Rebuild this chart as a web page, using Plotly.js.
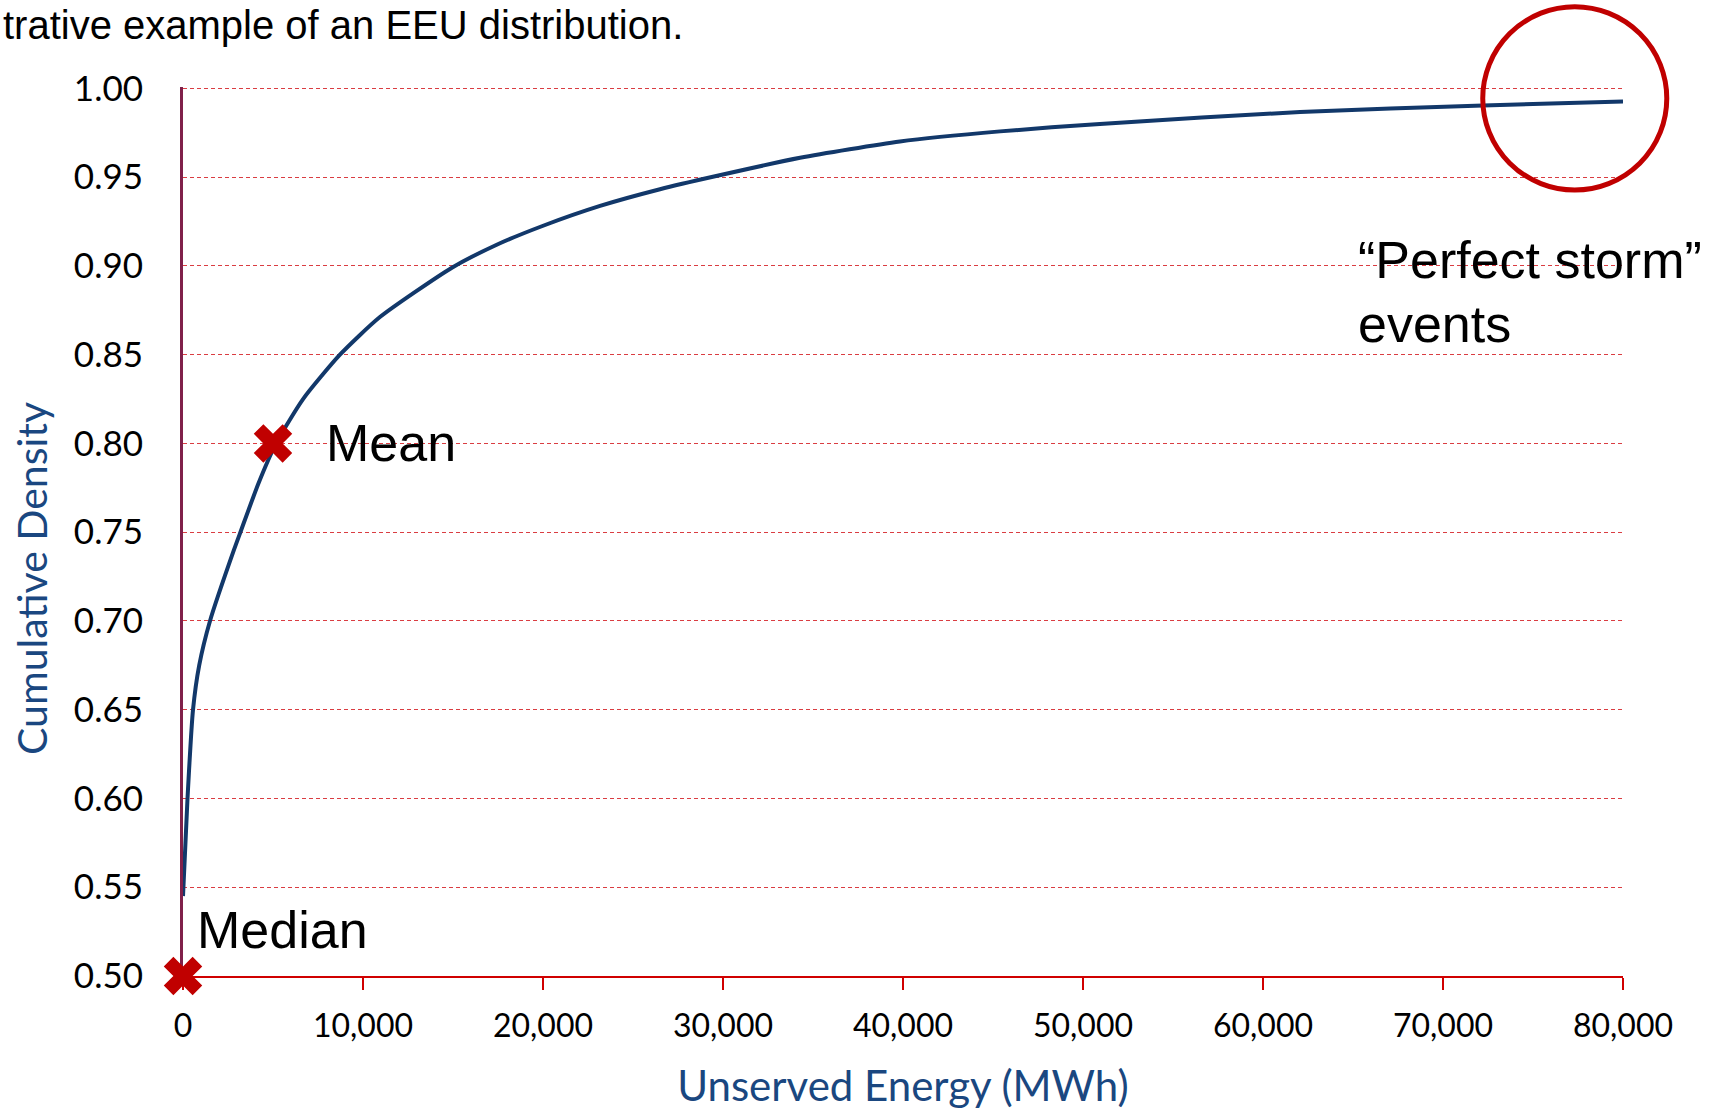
<!DOCTYPE html>
<html>
<head>
<meta charset="utf-8">
<script src="https://cdn.plot.ly/plotly-3.0.1.min.js"></script>
<style>html,body{margin:0;padding:0;background:#ffffff;}</style>
</head>
<body>
<div id="chart" style="width:1715px;height:1110px;"></div>
<script>
// ---- data ----
const energyMWh = [0, 250, 556, 900, 1500, 2830, 3190, 4190, 5170, 6670, 8720, 10940, 14940, 17400, 19970, 23170, 26500, 29560, 34280, 39830, 45390, 50940, 62060, 72220, 80000];
const cumulativeDensity = [0.545, 0.600, 0.650, 0.675, 0.700, 0.740, 0.750, 0.7774, 0.800, 0.825, 0.850, 0.8712, 0.899, 0.9118, 0.9225, 0.9338, 0.9432, 0.9505, 0.9609, 0.9701, 0.9758, 0.9800, 0.9867, 0.9904, 0.9927];

const markerLabels = ['Median', 'Mean'];
const markerEnergy = [0, 5000];
const markerDensity = [0.50, 0.80];

const xTickValues = [0, 10000, 20000, 30000, 40000, 50000, 60000, 70000, 80000];
const yTickValues = [0.50, 0.55, 0.60, 0.65, 0.70, 0.75, 0.80, 0.85, 0.90, 0.95, 1.00];

const headerText = 'trative example of an EEU distribution.';
const xTitleText = 'Unserved Energy (MWh)';
const yTitleText = 'Cumulative Density';
const stormLines = ['\u201CPerfect storm\u201D', 'events'];

// ---- styles ----
const NAVY = '#12386a';
const RED = '#c00000';
const AXIS_RED = '#d00000';
const TITLE_BLUE = '#1a4780';
const LABEL_FONT = 'Liberation Sans, Arial, sans-serif';
const AXIS_FONT = 'Lato, Carlito, sans-serif';

const traces = [
  {
    x: energyMWh,
    y: cumulativeDensity,
    type: 'scatter',
    mode: 'lines',
    line: {color: NAVY, width: 4, shape: 'spline', smoothing: 0.6},
    hoverinfo: 'x+y',
    showlegend: false
  },
  {
    x: markerEnergy,
    y: markerDensity,
    text: markerLabels,
    type: 'scatter',
    mode: 'markers',
    marker: {symbol: 'x', size: 34, color: RED, line: {width: 0}},
    cliponaxis: false,
    hoverinfo: 'text',
    showlegend: false
  }
];

const layout = {
  width: 1715,
  height: 1110,
  margin: {l: 183, r: 92, t: 87, b: 134, pad: 0},
  paper_bgcolor: '#ffffff',
  plot_bgcolor: '#ffffff',
  showlegend: false,
  xaxis: {
    range: [0, 80000],
    tickvals: xTickValues,
    tickformat: ',',
    showgrid: false,
    zeroline: false,
    showline: true,
    linecolor: AXIS_RED,
    linewidth: 2,
    ticks: 'outside',
    ticklen: 12,
    tickwidth: 2,
    tickcolor: AXIS_RED,
    tickfont: {family: AXIS_FONT, size: 32, color: '#000000'},
    ticklabelstandoff: 9,
    layer: 'below traces',
    title: {text: xTitleText, font: {family: AXIS_FONT, size: 42, color: TITLE_BLUE}, standoff: 30}
  },
  yaxis: {
    range: [0.5, 1.0008],
    tickvals: yTickValues,
    tickformat: '.2f',
    showgrid: true,
    gridcolor: 'rgba(214,40,45,0.9)',
    gridwidth: 1,
    griddash: '4px,3px',
    zeroline: false,
    showline: true,
    linecolor: '#80204a',
    linewidth: 3,
    ticks: '',
    tickfont: {family: AXIS_FONT, size: 35, color: '#000000'},
    ticklabelstandoff: 30,
    layer: 'below traces'
  },
  annotations: [
    {
      text: headerText, xref: 'paper', yref: 'paper', x: -0.1264, y: 1.0692,
      xanchor: 'left', yanchor: 'middle', showarrow: false,
      font: {family: LABEL_FONT, size: 40, color: '#000000'}
    },
    {
      text: yTitleText, xref: 'paper', yref: 'paper', x: -0.1049, y: 0.4477,
      xanchor: 'center', yanchor: 'middle', textangle: -90, showarrow: false,
      font: {family: AXIS_FONT, size: 41, color: TITLE_BLUE}
    },
    {
      text: markerLabels[1], xref: 'x', yref: 'y', x: 7860, y: 0.80,
      xanchor: 'left', yanchor: 'middle', showarrow: false,
      font: {family: LABEL_FONT, size: 52, color: '#000000'}
    },
    {
      text: markerLabels[0], xref: 'x', yref: 'y', x: 670, y: 0.5257,
      xanchor: 'left', yanchor: 'middle', showarrow: false,
      font: {family: LABEL_FONT, size: 52, color: '#000000'}
    },
    {
      text: stormLines[0], xref: 'paper', yref: 'paper', x: 0.8146, y: 0.8051,
      xanchor: 'left', yanchor: 'middle', showarrow: false,
      font: {family: LABEL_FONT, size: 52, color: '#000000'}
    },
    {
      text: stormLines[1], xref: 'paper', yref: 'paper', x: 0.8146, y: 0.7337,
      xanchor: 'left', yanchor: 'middle', showarrow: false,
      font: {family: LABEL_FONT, size: 52, color: '#000000'}
    }
  ],
  shapes: [
    {
      type: 'circle', xref: 'paper', yref: 'paper',
      x0: 0.9026, x1: 1.0304, y0: 0.8841, y1: 1.0903,
      line: {color: RED, width: 5}, fillcolor: 'rgba(0,0,0,0)'
    }
  ]
};

Plotly.newPlot('chart', traces, layout, {displayModeBar: false, staticPlot: true});
</script>
</body>
</html>
